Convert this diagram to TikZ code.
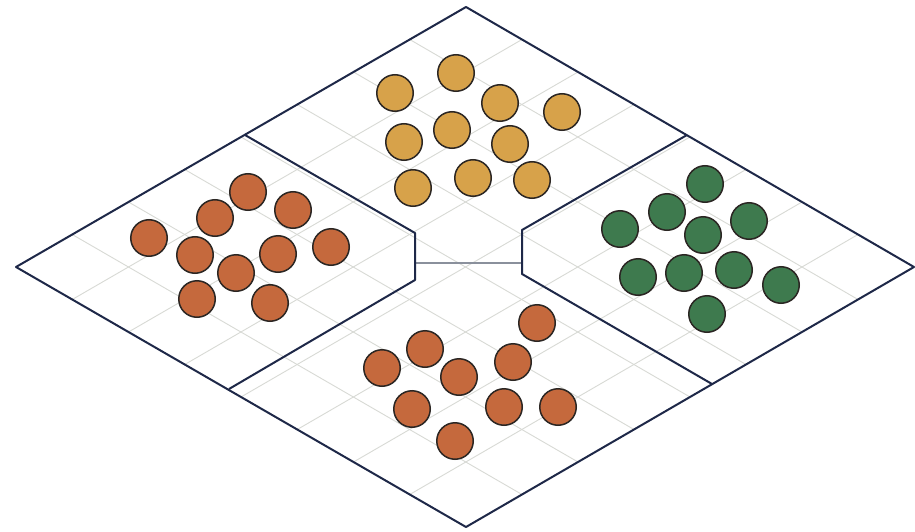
\documentclass[tikz,border=0pt]{standalone}
\usetikzlibrary{calc}
\definecolor{edgecol}{HTML}{1E2848}
\definecolor{gridcol}{HTML}{D8DAD5}
\definecolor{midcol}{HTML}{8A909C}
\definecolor{dotline}{HTML}{2B2623}
\definecolor{ycol}{HTML}{D7A24A}
\definecolor{ocol}{HTML}{C5693D}
\definecolor{gcol}{HTML}{3E7A4E}
\begin{document}
\begin{tikzpicture}[x=1pt,y=-1pt,
  edge/.style={draw=edgecol,line width=2pt,line join=round},
  gridline/.style={draw=gridcol,line width=0.9pt},
  midline/.style={draw=midcol,line width=1.2pt},
  dot/.style={circle,draw=dotline,line width=1.5pt,minimum size=36.5pt,inner sep=0pt},
  ydot/.style={dot,fill=ycol},
  odot/.style={dot,fill=ocol},
  gdot/.style={dot,fill=gcol}]
\useasboundingbox (0,0) rectangle (915,532);
\fill[white] (0,0) rectangle (915,532);
\coordinate (L) at (16,267);
\coordinate (T) at (466,7);
\coordinate (R) at (914,267);
\coordinate (B) at (466,527);
% grid
\foreach \k in {1,...,7}{
  \draw[gridline] ($(L)!\k/8!(B)$) -- ($(T)!\k/8!(R)$);
  \draw[gridline] ($(L)!\k/8!(T)$) -- ($(B)!\k/8!(R)$);
}
% middle line
\coordinate (m1) at (415,263);
\coordinate (m2) at (522,263);
\draw[midline] (m1) -- (m2);
% dividers
\coordinate (a1) at (245,135);
\coordinate (a2) at (415,233);
\coordinate (a3) at (415,280);
\coordinate (a4) at (229,389);
\coordinate (b1) at (687,135);
\coordinate (b2) at (522,230);
\coordinate (b3) at (522,274);
\coordinate (b4) at (712,384);
\draw[edge] (a1) -- (a2) -- (a3) -- (a4);
\draw[edge] (b1) -- (b2) -- (b3) -- (b4);
% outline
\draw[edge] (L) -- (T) -- (R) -- (B) -- cycle;
% top group
\foreach \n/\x/\y in {1/395/93, 2/456/73, 3/500/103, 4/562/112, 5/404/142, 6/452/130, 7/510/144, 8/413/188, 9/473/178, 10/532/180}
  \node[ydot] (y\n) at (\x,\y) {};
% left group
\foreach \n/\x/\y in {1/149/238, 2/215/218, 3/248/192, 4/293/210, 5/195/255, 6/236/273, 7/278/254, 8/331/247, 9/197/299, 10/270/303}
  \node[odot] (l\n) at (\x,\y) {};
% bottom group
\foreach \n/\x/\y in {1/537/323, 2/425/349, 3/513/362, 4/382/368, 5/459/377, 6/412/409, 7/504/407, 8/558/407, 9/455/441}
  \node[odot] (b\n) at (\x,\y) {};
% right group
\foreach \n/\x/\y in {1/705/184, 2/667/212, 3/749/221, 4/620/229, 5/703/235, 6/638/277, 7/684/273, 8/734/270, 9/781/285, 10/707/314}
  \node[gdot] (g\n) at (\x,\y) {};
\end{tikzpicture}
\end{document}
